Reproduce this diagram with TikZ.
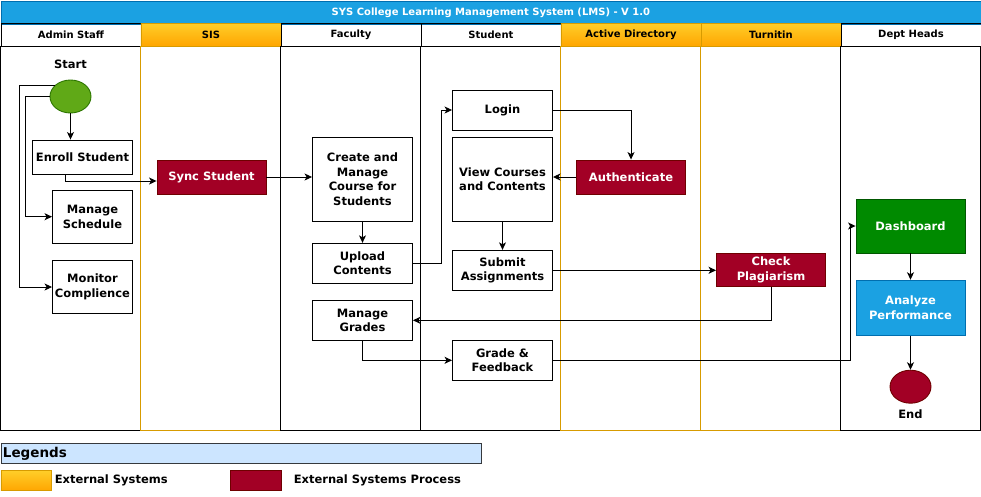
\documentclass[tikz,border=0pt]{standalone}
\usepackage{fontspec}
\setmainfont{DejaVu Sans}
\usetikzlibrary{positioning}
\usetikzlibrary{shapes.geometric}
\usetikzlibrary{arrows.meta}

\definecolor{titleblue}{HTML}{1BA1E2}
\definecolor{titleborder}{HTML}{006EAF}
\definecolor{exttop}{HTML}{FFCD28}
\definecolor{extbottom}{HTML}{FFA500}
\definecolor{extborder}{HTML}{D79B00}
\definecolor{extproc}{HTML}{A20025}
\definecolor{extprocborder}{HTML}{6F0000}
\definecolor{startgreen}{HTML}{60A917}
\definecolor{startborder}{HTML}{2D7600}
\definecolor{dashgreen}{HTML}{008A00}
\definecolor{dashborder}{HTML}{005700}
\definecolor{legendfill}{HTML}{CCE5FF}
\definecolor{legendborder}{HTML}{36393D}

\begin{document}
\begin{tikzpicture}[x=1pt,y=-1pt,
      lane-head/.style={draw,rectangle,line width=0.9pt,minimum width=140,minimum height=23,inner sep=0,anchor=north west,font=\bfseries\fontsize{10}{12}\selectfont},
      extlane-head/.style={lane-head,draw=extborder,top color=exttop,bottom color=extbottom},
      lane-body/.style={draw,line width=0.9pt},
      extlane-body/.style={draw=extborder,line width=0.9pt},
      procblock/.style={draw,rectangle,line width=0.9pt,fill=white,inner sep=0,minimum width=100,minimum height=40,align=center,font=\bfseries\fontsize{11.5}{14.5}\selectfont},
      extblock/.style={procblock,fill=extproc,draw=extprocborder,text=white,minimum width=109,minimum height=34},
      endpoint/.style={ellipse,line width=0.9pt,minimum width=41,minimum height=33,inner sep=0},
      arr/.style={-{Stealth[length=7.5pt,width=7pt,inset=2pt]},line width=0.9pt},
      tag/.style={font=\bfseries\fontsize{11.5}{14}\selectfont,inner sep=0}]

      \useasboundingbox (0,0) rectangle (981,496);

      % Title
      \node[draw=titleborder,fill=titleblue,text=white,line width=0.9pt,minimum width=980,minimum height=23,inner sep=0,anchor=north west,font=\bfseries\fontsize{10}{12}\selectfont]
            (title) at (0.5,0.5) {SYS College Learning Management System (LMS) - V 1.0};

      % Lanes
      \foreach \lname/\lx/\lkind in {Admin Staff/0/lane,SIS/140/extlane,Faculty/280/lane,Student/420/lane,Active Directory/560/extlane,Turnitin/700/extlane,Dept Heads/840/lane}
      {
        \node[\lkind-head] (head\lx) at (\lx+0.5,23) {\lname};
        \draw[\lkind-body] (\lx+0.5,46) rectangle (\lx+140.5,430);
      }

      % Admin Staff
      \node[tag]                                              (starttext)   at (70.5,64)    {Start};
      \node[endpoint,draw=startborder,fill=startgreen]        (start)       at (70.5,96.5)  {};
      \node[procblock,minimum height=34]                      (enroll)      at (82.5,157)   {Enroll Student};
      \node[procblock,minimum width=80,minimum height=53]     (schedule)    at (92.5,216.7) {Manage\\Schedule};
      \node[procblock,minimum width=80,minimum height=53]     (monitor)     at (92.5,287)   {Monitor\\Complience};

      % SIS
      \node[extblock]                                         (sync)        at (211.5,177)  {Sync Student};

      % Faculty
      \node[procblock,minimum height=84]                      (create)      at (362.5,179)  {Create and\\Manage\\Course for\\Students};
      \node[procblock]                                        (upload)      at (362.5,263.3) {Upload\\Contents};
      \node[procblock]                                        (grades)      at (362.5,320.3) {Manage\\Grades};

      % Student
      \node[procblock]                                        (login)       at (502.5,110)  {Login};
      \node[procblock,minimum height=84]                      (view)        at (502.5,179)  {View Courses\\and Contents};
      \node[procblock]                                        (submit)      at (502.5,270.3) {Submit\\Assignments};
      \node[procblock]                                        (feedback)    at (502.5,360.3) {Grade \&\\Feedback};

      % Active Directory and Turnitin
      \node[extblock]                                         (auth)        at (631,177)    {Authenticate};
      \node[extblock,minimum height=33]                       (check)       at (771,270)    {Check\\Plagiarism};

      % Dept Heads
      \node[procblock,fill=dashgreen,draw=dashborder,text=white,minimum width=109,minimum height=54] (dashboard) at (910.5,226) {Dashboard};
      \node[procblock,fill=titleblue,draw=titleborder,text=white,minimum width=109,minimum height=55] (analyze) at (910.5,307.7) {Analyze\\Performance};
      \node[endpoint,draw=extprocborder,fill=extproc]         (finish)      at (910.5,386.7) {};
      \node[tag]                                              (endtext)     at (910.5,414)  {End};

      % Arrows
      \draw[arr] (start.south) -- (start.south |- enroll.north);
      \draw[arr] (start.west) -- ++(-24,0) |- (schedule.west);
      \draw[arr] (start.145) -| ([xshift=-30]start.west) |- (monitor.west);
      \draw[arr] ([xshift=-17.5]enroll.south) |- ([yshift=-4]sync.west);
      \draw[arr] (sync.east) -- (sync.east -| create.west);
      \draw[arr] (create) -- (upload);
      \draw[arr] (upload.east) -- ++(28,0) |- (login.west);
      \draw[arr] (login.east) -| (auth.north);
      \draw[arr] (auth.west) -- (auth.west -| view.east);
      \draw[arr] (view) -- (submit);
      \draw[arr] (submit.east) -- (submit.east -| check.west);
      \draw[arr] (check.south) |- (grades.east);
      \draw[arr] (grades.south) |- (feedback.west);
      \draw[arr] (feedback.east) -| ([xshift=-5]dashboard.west) -- (dashboard.west);
      \draw[arr] (dashboard) -- (analyze);
      \draw[arr] (analyze) -- (finish);

      % Legends
      \node[draw=legendborder,fill=legendfill,line width=0.9pt,anchor=north west,text width=476,inner xsep=2,inner ysep=0,minimum height=20,font=\bfseries\fontsize{13.5}{15}\selectfont]
            (legend) at (0.5,443.3) {Legends};
      \node[draw=extborder,top color=exttop,bottom color=extbottom,line width=0.9pt,minimum width=50,minimum height=20,inner sep=0,anchor=north west] (extkey) at (0.5,470.3) {};
      \node[tag,anchor=west]                                  (extkeytext)  at (54.6,480)   {External Systems};
      \node[draw=extprocborder,fill=extproc,line width=0.9pt,minimum width=51,minimum height=20,inner sep=0,anchor=north west] (prockey) at (230,470.3) {};
      \node[tag,anchor=west]                                  (prockeytext) at (293.6,480)  {External Systems Process};

    \end{tikzpicture}
\end{document}
